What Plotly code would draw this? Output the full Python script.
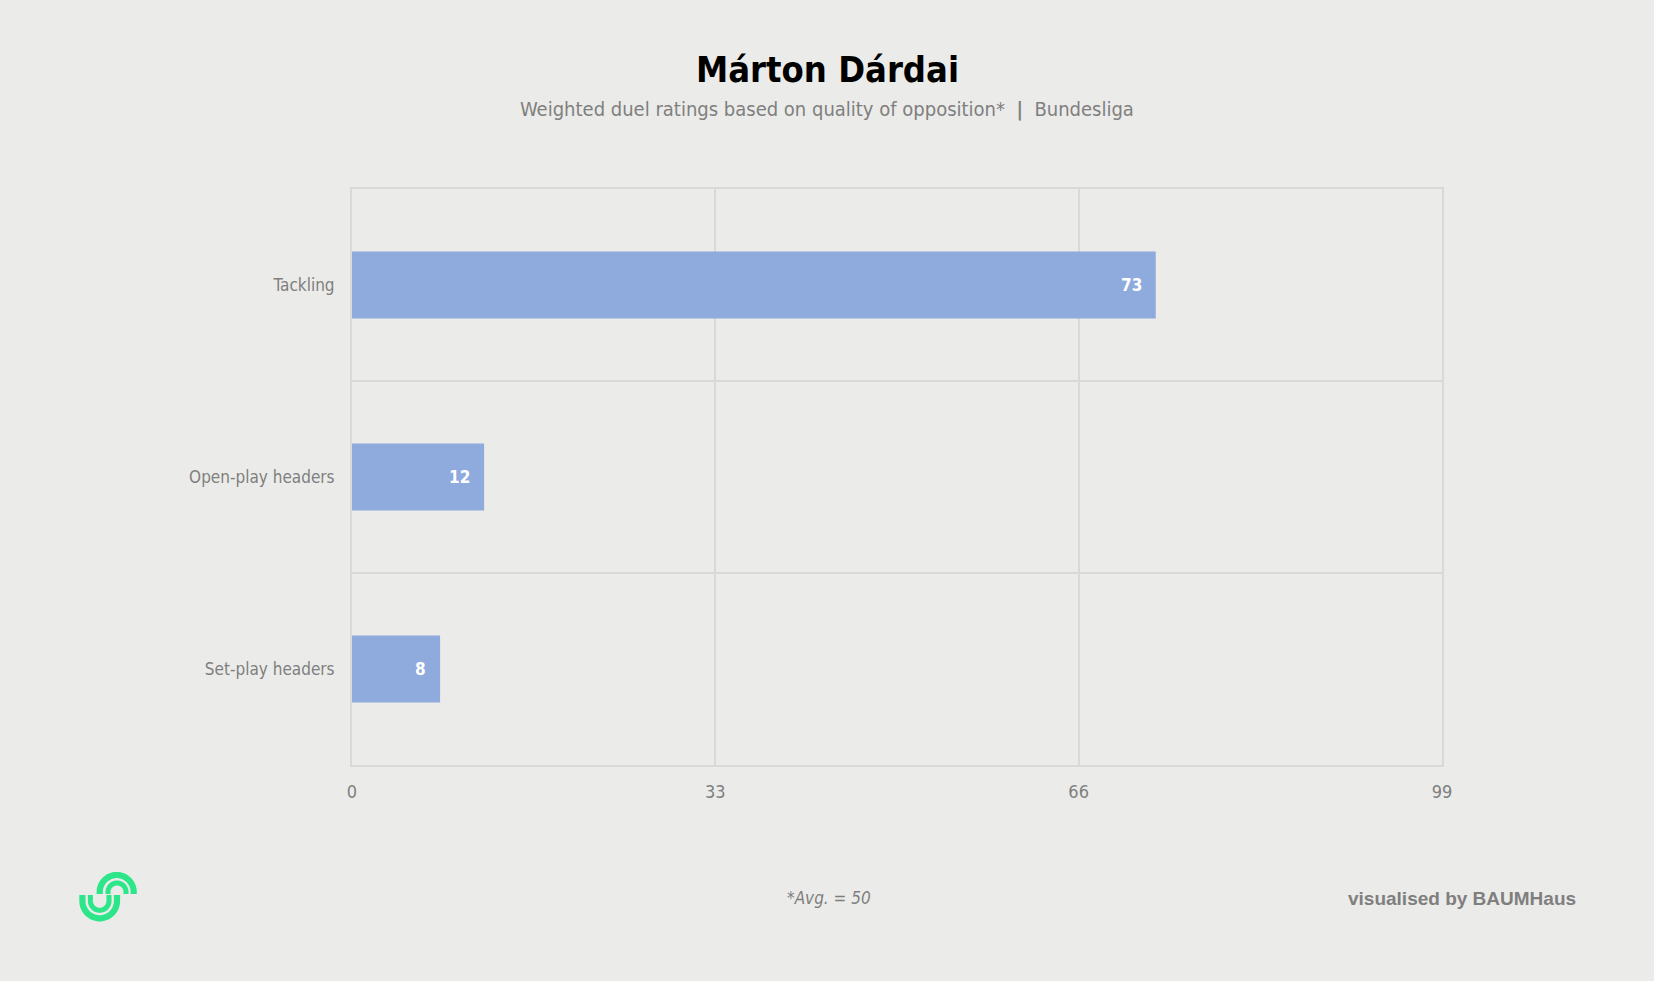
import numpy as np
import plotly.graph_objects as go

# ---- data ----
categories = ["Tackling", "Open-play headers", "Set-play headers"]
values = [73, 12, 8]
x_ticks = [0, 33, 66, 99]
title_text = "Márton Dárdai"
subtitle_text = "Weighted duel ratings based on quality of opposition*  <b>&#124;</b>  Bundesliga"
footnote_text = "*Avg. = 50"
credit_text = "visualised by BAUMHaus"

# ---- layout constants ----
W, H = 1654, 981
ML, MR, MT, MB = 352, 212, 189, 216
BG = "#EBEBE9"
GRID = "#D9D9D9"
GREY = "#7F7F7F"
BAR = "#8FAADC"
FONT = "DejaVu Sans Condensed"

def px(x):
    return (x - ML) / (W - ML - MR)

def py(y):
    return 1 - (y - MT) / (H - MT - MB)

fig = go.Figure()
fig.add_trace(go.Bar(
    x=values, y=categories, orientation="h",
    marker=dict(color=BAR, line=dict(width=0)),
    width=0.35, hoverinfo="skip",
))

annotations = []
for c, v in zip(categories, values):
    annotations.append(dict(
        x=v, y=c, xref="x", yref="y", text=str(v), showarrow=False,
        xanchor="right", yanchor="middle", xshift=-12,
        font=dict(family=FONT, size=17, color="white", weight="bold"),
    ))

annotations += [
    dict(x=px(827), y=py(69), xref="paper", yref="paper", text="<b>" + title_text + "</b>",
         showarrow=False, xanchor="center", yanchor="middle",
         font=dict(family=FONT, size=36, color="black")),
    dict(x=px(826.5), y=py(109), xref="paper", yref="paper", text=subtitle_text,
         showarrow=False, xanchor="center", yanchor="middle",
         font=dict(family=FONT, size=20, color=GREY)),
    dict(x=px(829), y=py(898), xref="paper", yref="paper", text="<i>" + footnote_text + "</i>",
         showarrow=False, xanchor="center", yanchor="middle",
         font=dict(family=FONT, size=17, color=GREY)),
    dict(x=px(1578), y=py(898), xref="paper", yref="paper", text="<b>" + credit_text + "</b>",
         showarrow=False, xanchor="right", yanchor="middle",
         font=dict(family="Liberation Sans", size=19, color=GREY)),
]

# ---- logo (decorative arcs) ----
LOGO = "#2DE68A"
def arc_path(cx, cy, r, upper, arm_end):
    t = np.linspace(np.pi, 0, 40)
    xs = cx + r * np.cos(t)
    ys = cy - r * np.sin(t) if upper else cy + r * np.sin(t)
    pts = [(cx - r, arm_end)] + list(zip(xs, ys)) + [(cx + r, arm_end)]
    return "M" + " L".join(f"{px(a):.5f},{py(b):.5f}" for a, b in pts)

shapes = []
for cx, cy, r, upper, w, arm in [
    (116.7, 892, 17.0, True, 6.2, 894),
    (117.0, 892, 9.0, True, 5.0, 894),
    (99.7, 901, 17.3, False, 6.2, 895),
    (99.7, 901, 9.3, False, 5.0, 895),
]:
    shapes.append(dict(type="path", xref="paper", yref="paper",
                       path=arc_path(cx, cy, r, upper, arm),
                       line=dict(color=LOGO, width=w)))

fig.update_layout(
    width=W, height=H,
    margin=dict(l=ML, r=MR, t=MT, b=MB, pad=0),
    paper_bgcolor=BG, plot_bgcolor=BG,
    showlegend=False,
    annotations=annotations,
    shapes=shapes,
    xaxis=dict(
        range=[0, 99], tickvals=x_ticks, ticktext=[str(t) for t in x_ticks],
        showgrid=True, gridcolor=GRID, gridwidth=2, zeroline=False,
        showline=True, linecolor=GRID, linewidth=2, mirror=True,
        ticks="", ticklabelstandoff=9,
        tickfont=dict(family=FONT, size=18, color=GREY),
        fixedrange=True,
    ),
    yaxis=dict(
        type="category", categoryorder="array", categoryarray=categories[::-1],
        range=[-0.5, 2.5],
        tickson="boundaries", showgrid=True, gridcolor=GRID, gridwidth=2,
        showline=True, linecolor=GRID, linewidth=2, mirror=True,
        ticks="", ticklabelstandoff=12,
        tickfont=dict(family=FONT, size=17, color=GREY),
        fixedrange=True,
    ),
)

fig.write_html("out.html", config={"displayModeBar": False},
               post_script="document.body.style.margin='0';document.body.style.background='" + BG + "';")
